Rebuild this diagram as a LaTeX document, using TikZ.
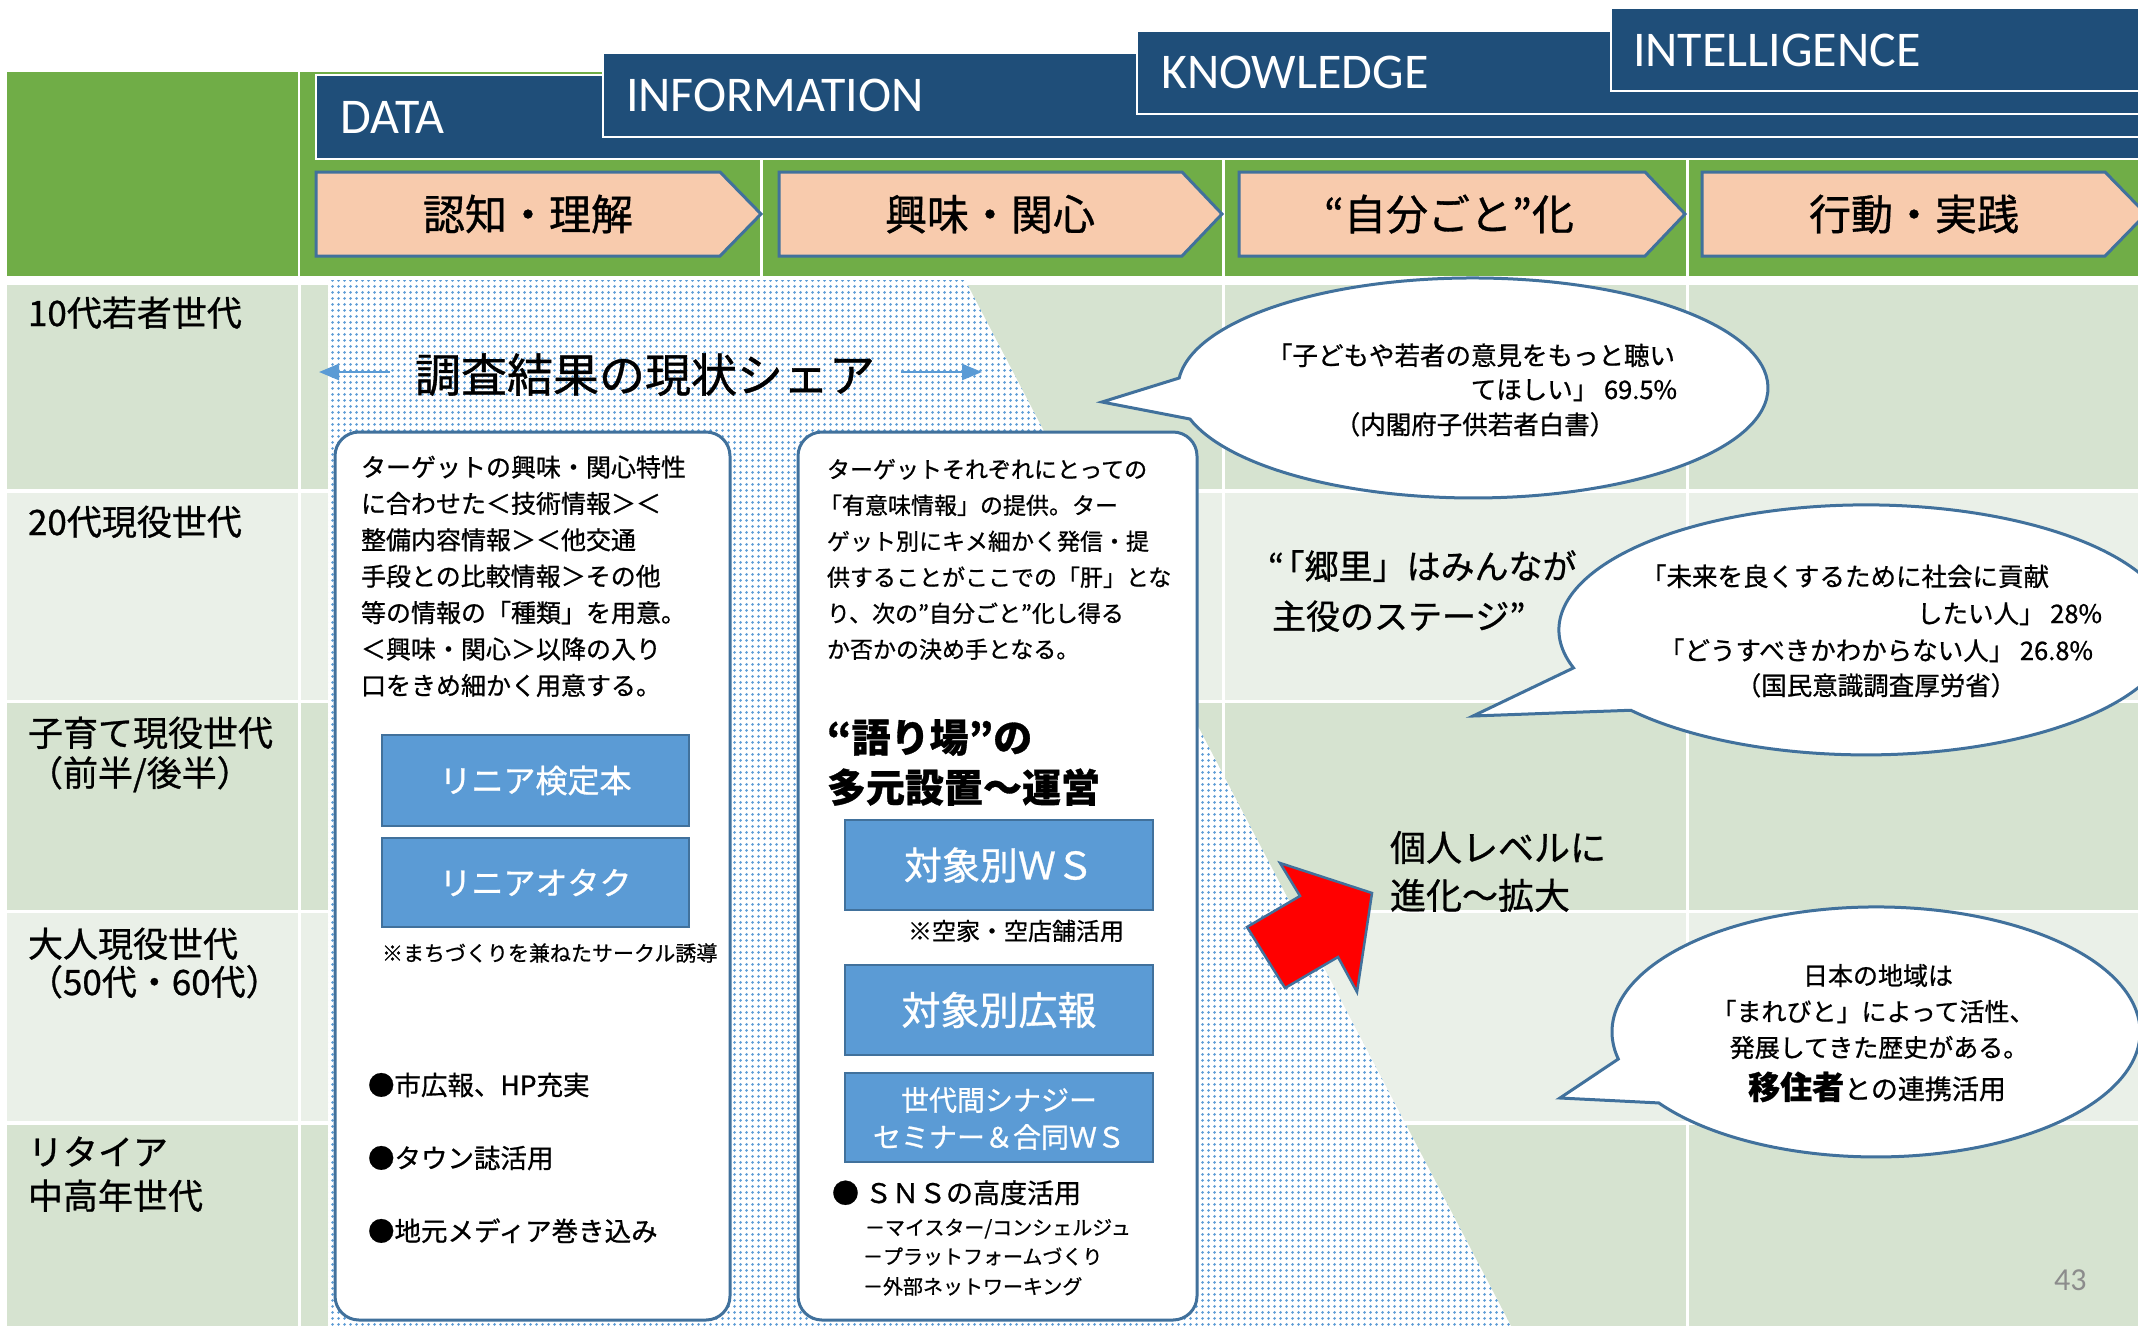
\documentclass[tikz,border=0pt]{standalone}
\usepackage{fontspec}
\setmainfont{Noto Sans CJK JP}[FakeBold=0.8]
\newfontfamily\latinfont{Carlito}
\usetikzlibrary{arrows.meta,patterns}
\definecolor{hgreen}{HTML}{70AD47}
\definecolor{rowa}{HTML}{D6E3D0}
\definecolor{rowb}{HTML}{EAF0E8}
\definecolor{navy}{HTML}{1F4E79}
\definecolor{peach}{HTML}{F8CBAD}
\definecolor{edgeblue}{HTML}{41719C}
\definecolor{btnblue}{HTML}{5B9BD5}
\definecolor{dotblue}{HTML}{5B9BD5}
\definecolor{pagegray}{HTML}{8C8C8C}
\pgfdeclarepatternformonly{mydots}{\pgfpointorigin}{\pgfpoint{6pt}{6pt}}{\pgfpoint{6pt}{6pt}}{\pgfpathcircle{\pgfpoint{3pt}{3pt}}{1.7pt}\pgfusepath{fill}}
\newcommand\myfs[1]{\fontsize{#1}{#1}\selectfont}
\begin{document}
\begin{tikzpicture}[x=1pt,y=-1pt,
  txt/.style={inner sep=0pt,outer sep=0pt},
  hdr/.style={txt,text=white,font=\latinfont\myfs{50},anchor=base west},
  chev/.style={fill=peach,draw=edgeblue,line width=3pt},
  navybox/.style={fill=navy,draw=white,line width=2.5pt},
  btn/.style={fill=btnblue,draw=edgeblue,line width=2.5pt},
  panel/.style={fill=white,draw=edgeblue,line width=3pt,rounded corners=24pt},
  bubble/.style={fill=white,draw=edgeblue,line width=3pt},
  gline/.style={draw=white,line width=3pt},
  barrow/.style={draw=btnblue,line width=2.5pt,-{Triangle[length=20pt,width=16pt]}},
]
\useasboundingbox (0,0) rectangle (2138,1326);
\fill[white] (0,0) rectangle (2138,1326);
\clip (0,0) rectangle (2138,1326);

% ---------- header ----------
\fill[hgreen] (7,72) rectangle (298,276);
\fill[hgreen] (300,72) rectangle (2138,276);
\draw[navybox] (316,75) rectangle (2160,159);
\draw[navybox] (603,53) rectangle (2160,137);
\draw[navybox] (1137,31) rectangle (2160,114);
\draw[navybox] (1611,8) rectangle (2160,91);
\node[hdr] (hdata) at (340,133) {DATA};
\node[hdr] (hinfo) at (626,111) {INFORMATION};
\node[hdr] (hknow) at (1161,88) {KNOWLEDGE};
\node[hdr] (hintel) at (1633,66) {INTELLIGENCE};
\draw[gline] (761,160) -- (761,276);
\draw[gline] (1223,160) -- (1223,276);
\draw[gline] (1687,160) -- (1687,276);
\draw[chev] (316,172) -- (720,172) -- (761,214) -- (720,256) -- (316,256) -- cycle;
\draw[chev] (779,172) -- (1182,172) -- (1222,214) -- (1182,256) -- (779,256) -- cycle;
\draw[chev] (1239,172) -- (1645,172) -- (1685,214) -- (1645,256) -- (1239,256) -- cycle;
\draw[chev] (1702,172) -- (2105,172) -- (2146,214) -- (2105,256) -- (1702,256) -- cycle;
\node[txt,anchor=base,font=\myfs{42}] (c1) at (528,230) {認知・理解};
\node[txt,anchor=base,font=\myfs{42}] (c2) at (990,230) {興味・関心};
\node[txt,anchor=base,font=\myfs{42}] (c3) at (1449,230) {“自分ごと”化};
\node[txt,anchor=base,font=\myfs{42}] (c4) at (1914,230) {行動・実践};

% ---------- body rows ----------
\fill[rowa] (7,285) rectangle (2138,489);
\fill[rowb] (7,493) rectangle (2138,700);
\fill[rowa] (7,703) rectangle (2138,910);
\fill[rowb] (7,913) rectangle (2138,1121);
\fill[rowa] (7,1125) rectangle (2138,1326);
\draw[gline] (299,285) -- (299,1326);
\draw[gline] (761,285) -- (761,1326);
\draw[gline] (1223,285) -- (1223,1326);
\draw[gline] (1687,285) -- (1687,1326);

\node[txt,anchor=base west,font=\myfs{35}] (g1) at (28,326) {10代若者世代};
\node[txt,anchor=base west,font=\myfs{35}] (g2) at (28,535) {20代現役世代};
\node[txt,anchor=base west,font=\myfs{35}] (g3a) at (28,746) {子育て現役世代};
\node[txt,anchor=base west,font=\myfs{35}] (g3b) at (28,786) {（前半/後半）};
\node[txt,anchor=base west,font=\myfs{35}] (g4a) at (28,957) {大人現役世代};
\node[txt,anchor=base west,font=\myfs{35}] (g4b) at (28,995) {（50代・60代）};
\node[txt,anchor=base west,font=\myfs{35}] (g5a) at (28,1165) {リタイア};
\node[txt,anchor=base west,font=\myfs{35}] (g5b) at (28,1209) {中高年世代};

% ---------- dotted area ----------
\fill[white] (328,280) -- (965,280) -- (1511,1326) -- (328,1326) -- cycle;
\fill[pattern=mydots,pattern color=dotblue] (328,280) -- (965,280) -- (1511,1326) -- (328,1326) -- cycle;

% title with arrows
\node[txt,anchor=base,font=\myfs{46}] (ttl) at (645,392) {調査結果の現状シェア};
\coordinate (lstart) at (390,372);
\coordinate (ltip) at (319,372);
\coordinate (rstart) at (901,372);
\coordinate (rtip) at (982,372);
\draw[barrow] (lstart) -- (ltip);
\draw[barrow] (rstart) -- (rtip);

% ---------- panel 1 ----------
\draw[panel] (335,432) rectangle (730,1320);
\node[txt,anchor=base west,font=\myfs{25}] (p1l1) at (361,476.5) {ターゲットの興味・関心特性};
\node[txt,anchor=base west,font=\myfs{25}] (p1l2) at (361,512.9) {に合わせた＜技術情報＞＜};
\node[txt,anchor=base west,font=\myfs{25}] (p1l3) at (361,549.3) {整備内容情報＞＜他交通};
\node[txt,anchor=base west,font=\myfs{25}] (p1l4) at (361,585.7) {手段との比較情報＞その他};
\node[txt,anchor=base west,font=\myfs{25}] (p1l5) at (361,622.1) {等の情報の「種類」を用意。};
\node[txt,anchor=base west,font=\myfs{25}] (p1l6) at (361,658.5) {＜興味・関心＞以降の入り};
\node[txt,anchor=base west,font=\myfs{25}] (p1l7) at (361,694.9) {口をきめ細かく用意する。};
\draw[btn] (382,735) rectangle (689,826);
\node[txt,text=white,font=\myfs{32}] (bt1) at (535.5,780.5) {リニア検定本};
\draw[btn] (382,838) rectangle (689,927);
\node[txt,text=white,font=\myfs{32}] (bt2) at (535.5,882.5) {リニアオタク};
\node[txt,anchor=base west,font=\myfs{21}] (n1) at (382,961) {※まちづくりを兼ねたサークル誘導};
\node[txt,anchor=base west,font=\myfs{26.5}] (u1) at (368,1095) {●市広報、HP充実};
\node[txt,anchor=base west,font=\myfs{26.5}] (u2) at (368,1168) {●タウン誌活用};
\node[txt,anchor=base west,font=\myfs{26.5}] (u3) at (368,1241) {●地元メディア巻き込み};

% ---------- panel 2 ----------
\draw[panel] (798,432) rectangle (1197,1320);
\node[txt,anchor=base west,font=\myfs{23}] (p2l1) at (827,478) {ターゲットそれぞれにとっての};
\node[txt,anchor=base west,font=\myfs{23}] (p2l2) at (819,514) {「有意味情報」の提供。ター};
\node[txt,anchor=base west,font=\myfs{23}] (p2l3) at (827,550) {ゲット別にキメ細かく発信・提};
\node[txt,anchor=base west,font=\myfs{23}] (p2l4) at (827,586) {供することがここでの「肝」とな};
\node[txt,anchor=base west,font=\myfs{23}] (p2l5) at (827,622) {り、次の”自分ごと”化し得る};
\node[txt,anchor=base west,font=\myfs{23}] (p2l6) at (827,658) {か否かの決め手となる。};
\node[txt,anchor=base west,font=\bfseries\myfs{39}] (p2t1) at (827,752) {“語り場”の};
\node[txt,anchor=base west,font=\bfseries\myfs{39}] (p2t2) at (827,802) {多元設置～運営};
\draw[btn] (845,820) rectangle (1153,910);
\node[txt,text=white,font=\myfs{38}] (bt3) at (999,865) {対象別ＷＳ};
\node[txt,anchor=base west,font=\myfs{24}] (n2) at (908,940) {※空家・空店舗活用};
\draw[btn] (845,965) rectangle (1153,1055);
\node[txt,text=white,font=\myfs{39}] (bt4) at (999,1010) {対象別広報};
\draw[btn] (845,1073) rectangle (1153,1162);
\node[txt,text=white,font=\myfs{28}] (bt5a) at (999,1100) {世代間シナジー};
\node[txt,text=white,font=\myfs{28}] (bt5b) at (999,1137) {セミナー＆合同ＷＳ};
\node[txt,anchor=base west,font=\myfs{27}] (sns) at (832,1203) {● ＳＮＳの高度活用};
\node[txt,anchor=base west,font=\myfs{20}] (s1) at (865,1235) {－マイスター/コンシェルジュ};
\node[txt,anchor=base west,font=\myfs{20}] (s2) at (863,1264) {－プラットフォームづくり};
\node[txt,anchor=base west,font=\myfs{20}] (s3) at (863,1294) {－外部ネットワーキング};

% ---------- bubble 1 ----------
\draw[bubble] (1102,402) -- (1179.2,378.0) arc[start angle=185.2,end angle=523.6,x radius=295,y radius=110] -- cycle;
\node[txt,anchor=base west,font=\myfs{25.5}] (b1l1) at (1267,365) {「子どもや若者の意見をもっと聴い};
\node[txt,anchor=base east,font=\myfs{25.5}] (b1l2) at (1677,399) {てほしい」 69.5\%};
\node[txt,anchor=base,font=\myfs{25.5}] (b1l3) at (1475,434) {（内閣府子供若者白書）};

% ---------- central statement ----------
\node[txt,anchor=base west,font=\myfs{34}] (kyo1) at (1268,579) {“\kern-0.4em「郷里」はみんなが};
\node[txt,anchor=base west,font=\myfs{34}] (kyo2) at (1272,629) {主役のステージ”};

% ---------- bubble 2 ----------
\draw[bubble] (1473,716) -- (1573.5,667.9) arc[start angle=162.3,end angle=500,x radius=307,y radius=125] -- cycle;
\node[txt,anchor=base west,font=\myfs{25.5}] (b2l1) at (1641,586) {「未来を良くするために社会に貢献};
\node[txt,anchor=base east,font=\myfs{25.5}] (b2l2) at (2102,623) {したい人」 28\%};
\node[txt,anchor=base,font=\myfs{25.5}] (b2l3) at (1876,660) {「どうすべきかわからない人」 26.8\%};
\node[txt,anchor=base,font=\myfs{25.5}] (b2l4) at (1876,695) {（国民意識調査厚労省）};

% ---------- red arrow ----------
\draw[fill=red,draw=edgeblue,line width=2.5pt] (1280,863) -- (1372,893) -- (1357,992) -- (1338,957) -- (1285,988) -- (1247,927) -- (1300,896) -- cycle;
\node[txt,anchor=base west,font=\myfs{36}] (ev1) at (1390,861) {個人レベルに};
\node[txt,anchor=base west,font=\myfs{36}] (ev2) at (1390,909) {進化～拡大};

% ---------- bubble 3 ----------
\draw[bubble] (1560,1098) -- (1618.3,1059.0) arc[start angle=167.5,end angle=505.4,x radius=264,y radius=125] -- cycle;
\node[txt,anchor=base,font=\myfs{25}] (b3l1) at (1878,985) {日本の地域は};
\node[txt,anchor=base,font=\myfs{25}] (b3l2) at (1873,1021) {「まれびと」によって活性、};
\node[txt,anchor=base,font=\myfs{25}] (b3l3) at (1879,1057) {発展してきた歴史がある。};
\node[txt,anchor=base,font=\myfs{27}] (b3l4) at (1877,1099) {{\bfseries\myfs{32}移住者}との連携活用};

% page number
\node[txt,anchor=base west,text=pagegray,font=\latinfont\myfs{32}] (pg) at (2054,1290) {43};
\end{tikzpicture}
\end{document}
